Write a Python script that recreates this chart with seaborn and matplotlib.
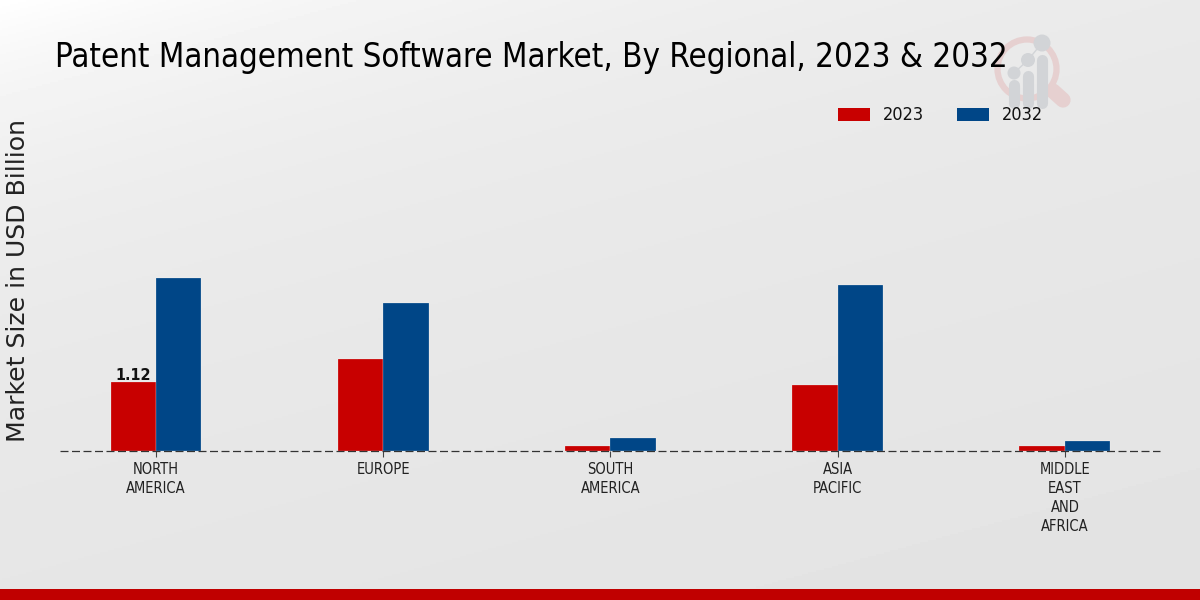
import numpy as np
import pandas as pd
import matplotlib
matplotlib.use("Agg")
import matplotlib.pyplot as plt
from matplotlib.patches import Circle
import seaborn as sns

regions = ["NORTH\nAMERICA", "EUROPE", "SOUTH\nAMERICA", "ASIA\nPACIFIC", "MIDDLE\nEAST\nAND\nAFRICA"]
values_2023 = [1.12, 1.50, 0.08, 1.07, 0.08]
values_2032 = [2.81, 2.41, 0.21, 2.70, 0.17]
years = ["2023", "2032"]
colors = ["#C80000", "#004687"]
title = "Patent Management Software Market, By Regional, 2023 & 2032"
ylabel = "Market Size in USD Billion"

df = pd.DataFrame({"region": regions * 2,
                   "year": [years[0]] * 5 + [years[1]] * 5,
                   "value": values_2023 + values_2032})

sns.set_theme(style="white")
plt.rcParams["font.family"] = ["DejaVu Sans"]
W, H = 1200, 600
fig = plt.figure(figsize=(12, 6), dpi=100)

# background gradient
bg = fig.add_axes([0, 0, 1, 1], zorder=0)
yy, xx = np.mgrid[0:1:300j, 0:1:600j]
d = xx * 0.35 + yy * 0.65
bg.imshow(0.89 + 0.03 * (1 - d) + 0.08 * np.exp(-d / 0.15), cmap="gray", vmin=0, vmax=1,
          extent=[0, W, H, 0], aspect="auto")
bg.set_xlim(0, W); bg.set_ylim(H, 0); bg.axis("off")

# footer strip
bg.fill_between([0, W], 589, 600, color="#C00000", lw=0)

# watermark logo
ring = "#E6D0D0"
grey = "#D2D4D7"
bg.add_patch(Circle((1027, 69), 29.5, fill=False, ec=ring, lw=4.5))
bg.plot([1053, 1063], [91, 100], color=ring, lw=11, solid_capstyle="round")
for cx, top, r, y0 in [(1014, 85, 6.5, 73), (1028, 76, 7, 60), (1042, 60, 8.5, 43)]:
    bg.plot([cx, cx], [top, 103], color=grey, lw=8, solid_capstyle="round")
    bg.add_patch(Circle((cx, y0), r, fc=grey, ec="none"))
bg.plot([1014, 1028, 1042], [73, 60, 43], color=grey, lw=1)

# main axes
left, right, base, top = 60, 1160, 451, 60
ax = fig.add_axes([left / W, (H - base) / H, (right - left) / W, (base - top) / H], zorder=2)
ax.patch.set_alpha(0)
sns.barplot(data=df, x="region", y="value", hue="year", order=regions, hue_order=years,
            palette=colors, width=0.4, gap=0, saturation=1, dodge=True, ax=ax,
            edgecolor="white", linewidth=0.15, errorbar=None, legend=False)
ax.set_xlim(-0.4225, 4.4185)
ax.set_ylim(0, (base - top) / 61.6)
for s in ax.spines.values():
    s.set_visible(False)
ax.set_yticks([])
ax.set_xlabel("")
ax.set_ylabel("")
ax.axhline(0, color="#333333", lw=0.9, ls=(0, (6.4, 2.8)), zorder=5, clip_on=False)
ax.tick_params(axis="x", length=4, width=0.8, color="#444444", bottom=True, pad=4)
ax.set_xticks(range(5))
ax.set_xticklabels(regions, fontsize=10.5, stretch="condensed", color="#222222", linespacing=1.32)
ax.text(-0.1, values_2023[0] - 0.01, f"{values_2023[0]:.2f}", ha="center", va="bottom",
        fontsize=11.5, fontweight="bold", color="#111111", stretch="condensed")

# title and y label
fig.text(55 / W, 1 - 58 / H, title, fontsize=23.7, stretch="condensed", color="black", va="center", ha="left", zorder=3)
fig.text(18 / W, 1 - 281 / H, ylabel, fontsize=18.1, rotation=90, color="#222222", va="center", ha="center", zorder=3)

# legend
for x0, c, y in zip([838, 957], colors, years):
    bg.fill_between([x0, x0 + 32], 107.5, 120.5, color=c, lw=0)
    bg.text(x0 + 45, 115, y, fontsize=13, stretch="condensed", va="center", ha="left", color="#111111")

fig.savefig("out.png", dpi=100)
